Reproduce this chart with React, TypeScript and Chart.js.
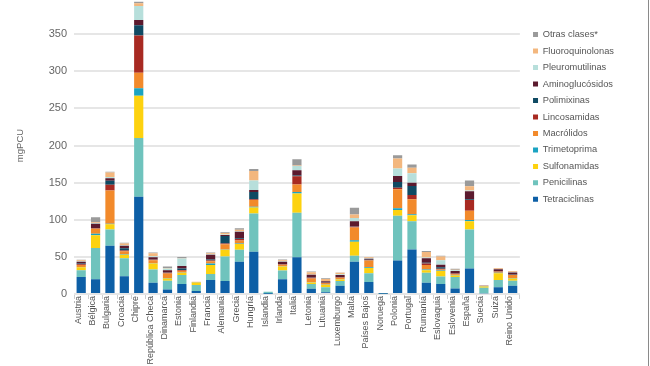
import { useEffect, useRef } from 'react';
import { Chart, registerables } from 'chart.js';

Chart.register(...registerables);

const countries = [
  'Austria', 'Bélgica', 'Bulgaria', 'Croacia', 'Chipre', 'República Checa', 'Dinamarca', 'Estonia',
  'Finlandia', 'Francia', 'Alemania', 'Grecia', 'Hungría', 'Islandia', 'Irlanda', 'Italia', 'Letonia',
  'Lituania', 'Luxemburgo', 'Malta', 'Países Bajos', 'Noruega', 'Polonia', 'Portugal', 'Rumanía',
  'Eslovaquia', 'Eslovenia', 'España', 'Suecia', 'Suiza', 'Reino Unido',
];

const tetraciclinas = [23, 20, 65, 24, 131, 15, 6, 13.5, 4, 19, 17.5, 43.5, 57, 0.5, 20, 49.5, 7, 2.5, 11, 43.5, 16, 0.3, 45, 60, 15, 13.5, 7.5, 34.5, 1, 9, 11];
const penicilinas = [9, 42, 22, 24, 79, 18, 12, 12, 8, 8, 33, 16, 51.5, 2.5, 11.5, 60, 6.5, 6.5, 6.5, 8, 12, 0.8, 60.5, 38, 13.5, 10, 15.5, 52.5, 7.5, 10, 7];
const sulfonamidas = [4, 17, 7, 5, 57, 8, 3, 3, 3.5, 12, 9, 8, 8, 0, 5.5, 26, 2, 3.5, 2, 19, 7, 0.1, 7.5, 8, 3.5, 7.5, 2, 11, 1.5, 9, 3];
const trimetoprima = [0.5, 2, 0.5, 0.5, 10, 0.5, 0.5, 0.3, 0.3, 2, 0.5, 0.5, 1, 0, 0.5, 2, 0.3, 0.3, 0.5, 2, 1, 0, 2.5, 1.5, 1, 0.5, 0.5, 1.5, 0.5, 0.5, 0.5];
const macrolidos = [2.5, 7, 45, 4, 21, 4, 6, 2.5, 0.3, 3, 7, 4, 9, 0, 2, 10, 5, 2, 2, 17, 9, 0, 25.5, 20, 6, 1.5, 1, 12.5, 0.3, 1.5, 4];
const lincosamidas = [1, 0.5, 7.5, 1, 50, 1, 1, 1, 0, 1, 1, 2, 1, 0, 0.5, 11, 1, 0.5, 0.5, 1, 0.5, 0, 2, 6, 2, 1, 1, 14.5, 0, 0.5, 0.5];
const polimixinas = [1, 0.5, 5.5, 3, 14, 0.5, 0.5, 2, 0, 1.5, 10, 1, 10, 0, 0.5, 1, 0.5, 0.3, 0.5, 0.5, 0.5, 0, 8, 12, 1, 2, 0.5, 1, 0, 0.5, 0.5];
const aminoglucosidos = [2.5, 5.5, 3.5, 3.5, 7, 2.5, 3, 3.5, 0.2, 6.5, 1.5, 9, 2.5, 0, 3, 7, 3.5, 1.5, 2.5, 7, 1.5, 0, 8, 4.5, 6, 3.5, 3, 11, 0.3, 2.5, 2.5];
const pleuromutilinas = [0.5, 1, 1.5, 0.5, 19, 1.5, 2.5, 10, 0, 0.5, 0.5, 0.5, 13, 0, 0.5, 6, 0.5, 0.5, 1, 4.5, 0.5, 0, 10, 12.5, 1, 6, 1, 1, 0, 0.3, 0.5];
const fluoroquinolonas = [1.5, 1, 6, 2.5, 3.5, 4, 0.5, 0.5, 0.2, 1.5, 2, 2, 12.5, 0, 1.5, 0.5, 3, 2.5, 2, 4.5, 1.5, 0, 13.5, 7.5, 7.5, 5, 0.5, 5.5, 0.3, 0.8, 1];
const otrasClases = [0.5, 7, 1, 1, 2, 1, 2, 1.5, 0, 1, 1, 2, 3, 0, 1, 8.5, 1, 1, 0.5, 9, 0.5, 0, 4.5, 4.5, 1.5, 1, 1.5, 8, 0, 0.5, 0.5];

const seriesNames = [
  'Tetraciclinas', 'Penicilinas', 'Sulfonamidas', 'Trimetoprima', 'Macrólidos', 'Lincosamidas',
  'Polimixinas', 'Aminoglucósidos', 'Pleuromutilinas', 'Fluoroquinolonas', 'Otras clases*',
];
const seriesColors = [
  '#0d5fa6', '#6fc3bd', '#fdd20f', '#1aa3c2', '#f28a2b', '#a82a22',
  '#0f4a63', '#5b1a2e', '#b7dfdb', '#f3b77e', '#9a9a9a',
];
const seriesValues = [
  tetraciclinas, penicilinas, sulfonamidas, trimetoprima, macrolidos, lincosamidas,
  polimixinas, aminoglucosidos, pleuromutilinas, fluoroquinolonas, otrasClases,
];

const yMax = 400;
const yStep = 50;
const yTitle = 'mgPCU';

export default function App() {
  const ref = useRef<HTMLCanvasElement | null>(null);

  useEffect(() => {
    if (!ref.current) return;
    Chart.defaults.font.family = '"Liberation Sans", Arial, sans-serif';
    const chart = new Chart(ref.current, {
      type: 'bar',
      data: {
        labels: countries,
        datasets: seriesNames.map((name, i) => ({
          label: name,
          data: seriesValues[i],
          backgroundColor: seriesColors[i],
          borderWidth: 0,
          barPercentage: 0.8,
          categoryPercentage: 0.8,
        })),
      },
      options: {
        responsive: false,
        animation: false,
        layout: { padding: { top: 20, left: 0, right: 26, bottom: 0 } },
        plugins: {
          tooltip: { enabled: false },
          legend: {
            position: 'right',
            align: 'start',
            reverse: true,
            title: { display: true, text: ' ', font: { size: 1 }, padding: { top: 24.6, bottom: 0 } },
            labels: {
              boxWidth: 5,
              boxHeight: 5,
              padding: 7.17,
              color: '#555',
              font: { size: 9.3 },
            },
          },
        },
        scales: {
          x: {
            stacked: true,
            afterFit: (s: any) => { s.height = 72; },
            grid: { display: true, drawOnChartArea: false, drawTicks: true, tickLength: 5, color: '#cfcfcf', offset: true },
            border: { display: false },
            ticks: {
              autoSkip: false,
              maxRotation: 90,
              minRotation: 90,
              padding: -3,
              labelOffset: -3,
              color: '#555',
              font: { size: 9 },
            },
          },
          y: {
            stacked: true,
            min: 0,
            max: yMax,
            afterFit: (s: any) => { s.width = 74; },
            grid: { color: '#e6e6e6', lineWidth: 2, drawTicks: false },
            border: { display: false },
            ticks: { stepSize: yStep, padding: 7, color: '#666', font: { size: 11 } },
            title: { display: true, text: yTitle, color: '#666', font: { size: 9.5 }, padding: { top: 15, bottom: 0 } },
          },
          yR: {
            position: 'right',
            display: true,
            afterFit: (s: any) => { s.width = 6; },
            grid: { display: false },
            border: { display: false },
            ticks: { display: false },
          },
        },
      },
    });
    return () => chart.destroy();
  }, []);

  return (
    <div style={{ position: 'absolute', left: 0, top: 0, width: 650, height: 366, overflow: 'hidden', background: '#fff' }}>
      <div style={{ position: 'absolute', left: 0, top: -23, width: 650, height: 389 }}>
        <canvas ref={ref} width={650} height={389} style={{ display: 'block' }} />
      </div>
      <div style={{ position: 'absolute', left: 648, top: 0, width: 1, height: 366, background: '#8a8a8a' }} />
    </div>
  );
}
